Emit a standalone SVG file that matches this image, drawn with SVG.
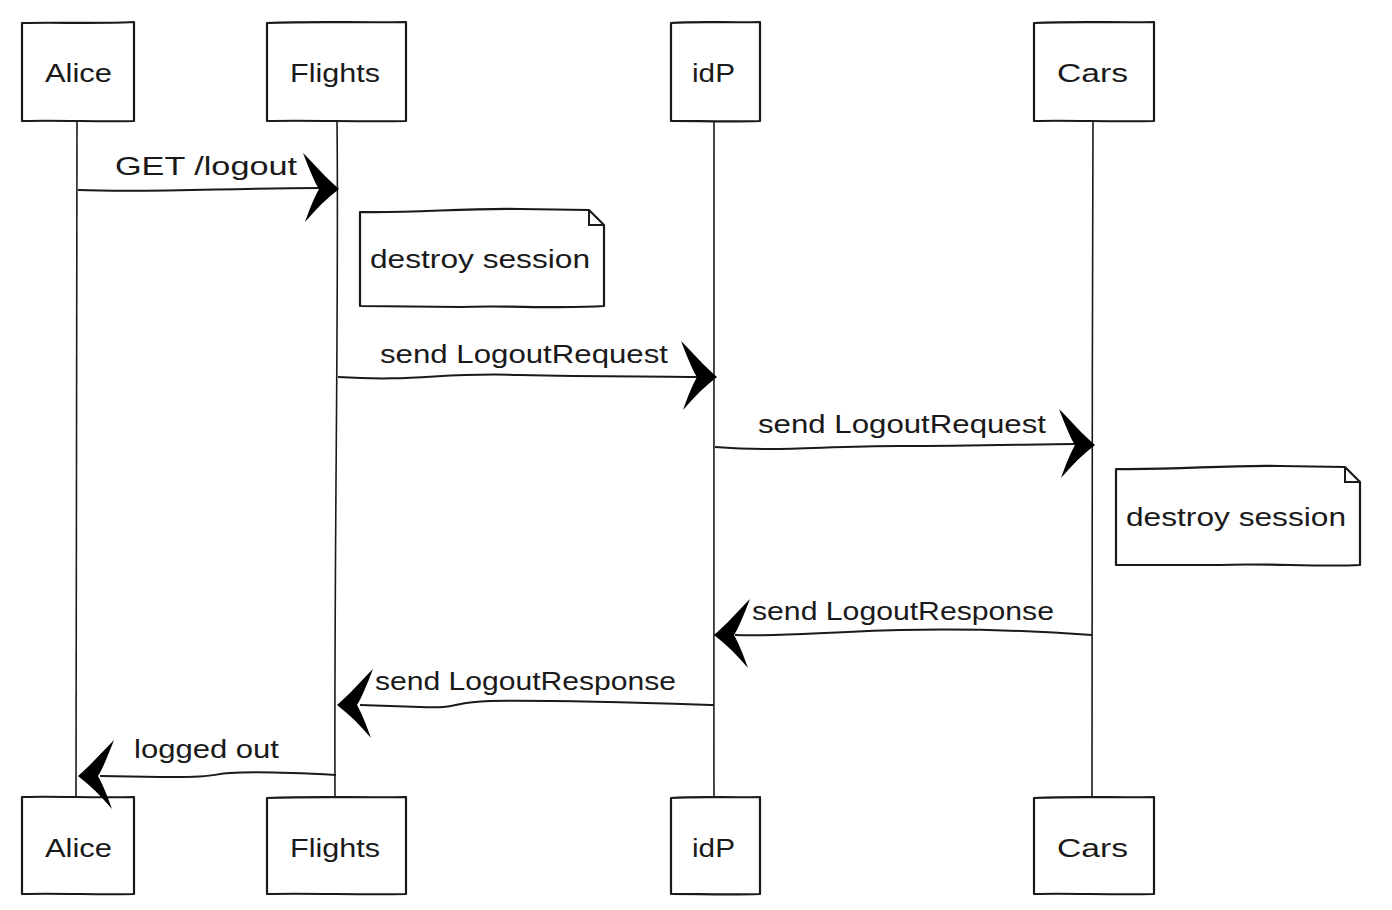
<svg xmlns="http://www.w3.org/2000/svg" width="1392" height="910" viewBox="0 0 1392 910">
<style>
.box{fill:#fff;stroke:#1a1a1a;stroke-width:2.2;stroke-linejoin:round}
.line{fill:none;stroke:#1a1a1a;stroke-width:2}
.life{fill:none;stroke:#1a1a1a;stroke-width:1.6}
.t{font-family:"Liberation Sans","DejaVu Sans",sans-serif;font-size:25px;fill:#1a1a1a}
.head{fill:#000}
</style>
<defs>
<path id="ah" d="M0,0 C-12,-10 -24,-24 -36,-36 C-29,-18 -24,-6 -20,0 C-25,9 -29,19 -34,33 C-23,20 -12,9 0,0 Z"/>
</defs>
<g id="lifelines">
<path class="life" d="M77,121 C76,300 78,500 76,797"/>
<path class="life" d="M337,121 C339,300 334,550 335,797"/>
<path class="life" d="M714,121 C716,300 713,550 714,797"/>
<path class="life" d="M1093,121 C1091,350 1094,550 1092,797"/>
</g>
<g id="Alice-top"><path class="box" d="M22,23 C60,22 90,24 134,22 L134,121 C100,122 60,120 22,121 Z"/><text class="t" x="45" y="82" textLength="67" lengthAdjust="spacingAndGlyphs">Alice</text></g>
<g id="Flights-top"><path class="box" d="M267,23 C320,21 360,23 406,22 L406,121 C360,122 310,120 267,121 Z"/><text class="t" x="290" y="82" textLength="90" lengthAdjust="spacingAndGlyphs">Flights</text></g>
<g id="idP-top"><path class="box" d="M671,23 C700,21 730,23 760,22 L760,121 C730,122 700,121 671,121 Z"/><text class="t" x="692" y="82" textLength="43" lengthAdjust="spacingAndGlyphs">idP</text></g>
<g id="Cars-top"><path class="box" d="M1034,23 C1080,21 1120,23 1154,22 L1154,121 C1110,122 1070,120 1034,121 Z"/><text class="t" x="1057" y="82" textLength="71" lengthAdjust="spacingAndGlyphs">Cars</text></g>
<g id="Alice-bottom"><path class="box" d="M22,797 C60,796 90,798 134,797 L134,894 C100,895 60,893 22,894 Z"/><text class="t" x="45" y="857" textLength="67" lengthAdjust="spacingAndGlyphs">Alice</text></g>
<g id="Flights-bottom"><path class="box" d="M267,798 C320,796 360,798 406,797 L406,894 C360,895 310,893 267,894 Z"/><text class="t" x="290" y="857" textLength="90" lengthAdjust="spacingAndGlyphs">Flights</text></g>
<g id="idP-bottom"><path class="box" d="M671,798 C700,796 730,798 760,797 L760,894 C730,895 700,894 671,894 Z"/><text class="t" x="692" y="857" textLength="43" lengthAdjust="spacingAndGlyphs">idP</text></g>
<g id="Cars-bottom"><path class="box" d="M1034,798 C1080,796 1120,798 1154,797 L1154,894 C1110,895 1070,893 1034,894 Z"/><text class="t" x="1057" y="857" textLength="71" lengthAdjust="spacingAndGlyphs">Cars</text></g>
<g id="note1"><path class="box" d="M360,212 C420,213 460,208 520,209 L589,210 L604,225 L604,306 C560,309 500,305 460,307 L360,306 Z"/><path class="line" d="M589,210 L589,225 L604,225"/><text class="t" x="370" y="268" textLength="220" lengthAdjust="spacingAndGlyphs">destroy session</text></g>
<g id="note2"><path class="box" d="M1116,469 C1180,470 1220,465 1280,466 L1345,467 L1360,482 L1360,565 C1320,567 1260,563 1220,565 L1116,565 Z"/><path class="line" d="M1345,467 L1345,482 L1360,482"/><text class="t" x="1126" y="526" textLength="220" lengthAdjust="spacingAndGlyphs">destroy session</text></g>
<g id="connectors">
<path class="line" d="M78,190 C150,193 230,188 320,188"/>
<use href="#ah" class="head" transform="translate(339,189)"/>
<text class="t" x="115" y="175" textLength="182" lengthAdjust="spacingAndGlyphs">GET /logout</text>
<path class="line" d="M338,377 C420,382 440,372 520,375 C600,377 660,376 700,377"/>
<use href="#ah" class="head" transform="translate(717,377)"/>
<text class="t" x="380" y="363" textLength="288" lengthAdjust="spacingAndGlyphs">send LogoutRequest</text>
<path class="line" d="M715,447 C780,452 820,446 900,446 C980,446 1040,444 1075,444"/>
<use href="#ah" class="head" transform="translate(1095,445)"/>
<text class="t" x="758" y="433" textLength="288" lengthAdjust="spacingAndGlyphs">send LogoutRequest</text>
<path class="line" d="M1092,635 C1050,632 980,628 900,630 C820,632 780,637 735,635"/>
<use href="#ah" class="head" transform="translate(714,635) scale(-1,1)"/>
<text class="t" x="752" y="620" textLength="302" lengthAdjust="spacingAndGlyphs">send LogoutResponse</text>
<path class="line" d="M714,705 C650,703 560,700 490,701 C450,702 460,709 420,707 L360,705"/>
<use href="#ah" class="head" transform="translate(337,705) scale(-1,1)"/>
<text class="t" x="375" y="690" textLength="301" lengthAdjust="spacingAndGlyphs">send LogoutResponse</text>
<path class="line" d="M336,775 C300,773 260,771 230,773 C210,774 220,778 160,777 L100,776"/>
<use href="#ah" class="head" transform="translate(78,776) scale(-1,1)"/>
<text class="t" x="134" y="758" textLength="145" lengthAdjust="spacingAndGlyphs">logged out</text>
</g>
</svg>
